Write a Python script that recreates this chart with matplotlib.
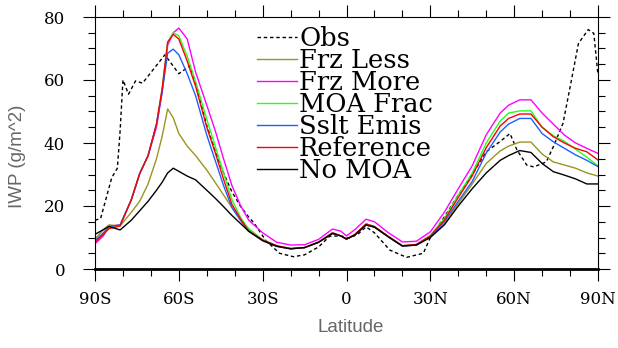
import matplotlib
matplotlib.use('Agg')
from matplotlib import pyplot as plt
from matplotlib.ticker import MultipleLocator

# latitudes of the model output
lat = [-90, -87, -85, -81, -77, -74, -71, -68, -66, -64, -62, -60, -57, -54,
       -50, -47, -44, -41, -38, -35, -30, -25, -20, -15, -10, -5, -2, 0,
       3, 7, 10, 15, 20, 25, 30, 35, 40, 45, 50, 55, 58, 62, 66, 70, 74, 78, 82, 86, 90]

frz_less = [9.5, 12.5, 14, 13.7, 18, 21.5, 27, 35, 42, 50.8, 48, 43, 39, 36,
            31.4, 27.5, 23.5, 19.5, 16, 12.8, 9.3, 7.3, 6.5, 6.8, 8.5, 11.3, 10.5, 9.5,
            10.8, 14, 13.3, 10.2, 7.3, 7.6, 10.2, 14.3, 20.8, 27, 33.5, 37.5, 39,
            40.3, 40.3, 36.5, 34, 33, 32, 30.5, 29.5]
frz_more = [8, 10.5, 13.5, 14, 22, 30.3, 36, 45, 56, 71, 75, 76.5, 73, 62.5,
            52, 44, 35, 26.5, 20.3, 15.5, 11.5, 8.5, 7.6, 7.7, 9.4, 12.7, 12, 10.5,
            12.5, 15.8, 15, 11.5, 8.6, 8.8, 11.8, 18, 25.5, 32.8, 42.6, 49.5, 52,
            53.7, 53.7, 49.5, 46, 42.5, 40, 38.3, 36.7]
moa_frac = [8.5, 11, 13, 13.7, 22, 30.3, 36, 46, 57, 72, 75, 74, 67.5, 59.5,
            47.5, 39, 30.5, 22, 16.5, 12.5, 9.3, 7.4, 6.5, 6.8, 8.5, 11.5, 10.5, 9.5,
            11, 14.3, 13.5, 10.3, 7.4, 7.8, 10.7, 16, 23.5, 30.5, 40, 47, 49.5,
            50.2, 50.2, 45, 42.3, 40.5, 38, 35.5, 32.7]
sslt_emis = [9, 11.5, 13.5, 14, 22, 30.3, 36, 46, 56, 68.5, 69.8, 68, 62, 55,
             42.5, 34.5, 26.5, 19.5, 15.5, 12, 9, 7.2, 6.4, 6.8, 8.5, 11.3, 10.5, 9.5,
             10.8, 14, 13.3, 10.2, 7.3, 7.6, 10.2, 15, 21.5, 27.8, 36.8, 43.5, 46,
             47.8, 47.8, 43, 40.4, 38.3, 36.2, 34.5, 32.5]
reference = [8.5, 11, 12.8, 13.7, 22, 30.3, 36, 46, 57, 72, 74.5, 73, 66, 58,
             45, 37, 28.5, 20.5, 16, 12, 9.2, 7.4, 6.5, 6.8, 8.5, 11.5, 10.5, 9.5,
             11, 14.3, 13.5, 10.3, 7.4, 7.8, 10.5, 15.5, 22.7, 29.6, 38.5, 45.4, 47.8,
             49.2, 49.2, 45, 42, 40, 38.3, 37.2, 34.6]
no_moa = [11, 12.5, 13.5, 12.4, 15.5, 18.5, 21.5, 25, 27.5, 30.5, 32, 31, 29.5, 28.3,
          25, 22.5, 19.8, 17, 14.5, 12, 9, 7.2, 6.4, 6.8, 8.5, 11.3, 10.5, 9.5,
          10.8, 14, 13.3, 10.2, 7.3, 7.6, 10, 14, 20, 25.5, 30.5, 34.5, 36,
          37.6, 37, 33.5, 30.9, 29.8, 28.6, 27, 27]

# observations
obs_lat = [-90, -88, -84, -82, -81, -80, -78, -75.5, -73, -65, -60, -56, -54, -50,
           -47, -44, -41, -38, -35, -33, -29, -24, -19, -15, -10, -6, -2, 1, 4, 7,
           10, 15.5, 21.5, 27.5, 30, 35, 40, 45, 50, 55, 58.5, 61, 64.5, 67, 71.5,
           74, 77.5, 80.5, 83, 86.5, 88.5, 90]
obs_iwp = [15.5, 16, 29, 32, 44, 60, 55.5, 59.7, 59, 68, 62, 64.5, 59, 45.5,
           37.5, 30.5, 24.5, 20, 16.5, 14.5, 9.2, 5, 3.9, 4.5, 7, 10.4, 10.5, 9.8, 11, 13.4,
           11.5, 6, 3.7, 5, 10, 16.5, 23.5, 30, 37.2, 40.5, 43, 37.8, 33, 32.4, 34,
           38.8, 46.3, 60, 71.6, 76, 74.8, 61.6]

names = ['Obs', 'Frz Less', 'Frz More', 'MOA Frac', 'Sslt Emis', 'Reference', 'No MOA']
colors = ['black', '#9c9420', '#ff00ff', '#22ff22', '#1f5fff', '#ff0000', 'black']
xticks = [-90, -60, -30, 0, 30, 60, 90]
xticklabels = ['90S', '60S', '30S', '0', '30N', '60N', '90N']

fig = plt.figure(figsize=(6.18, 3.48), dpi=100)
ax = fig.add_axes([95/618, 79/348, 503/618, 252/348])

ax.plot(obs_lat, obs_iwp, color='black', lw=1.0, ls=(0, (2.5, 2)))
models = [frz_less, frz_more, moa_frac, sslt_emis, reference, no_moa]
for vals, c in zip(models, colors[1:]):
    ax.plot(lat, vals, color=c, lw=1.0)

ax.set_xlim(-90, 90)
ax.set_ylim(0, 80)
ax.set_xticks(xticks)
ax.set_xticklabels(xticklabels)
ax.set_yticks([0, 20, 40, 60, 80])
ax.xaxis.set_minor_locator(MultipleLocator(10))
ax.yaxis.set_minor_locator(MultipleLocator(5))
ax.tick_params(which='both', direction='out', top=True, right=True, width=0.8)
ax.tick_params(which='major', length=8.6)
ax.tick_params(which='minor', length=5)
ax.tick_params(axis='x', pad=7)
ax.tick_params(axis='y', pad=13)
for lab in ax.get_xticklabels() + ax.get_yticklabels():
    lab.set_fontfamily('DejaVu Serif')
    lab.set_fontsize(12)
for s in ax.spines.values():
    s.set_linewidth(0.8)
ax.spines['bottom'].set_linewidth(2)

# legend drawn by hand, NCL style
for i, (n, c) in enumerate(zip(names, colors)):
    y = 0.9206 - i * 0.0873
    ls = (0, (2.5, 2)) if i == 0 else '-'
    ax.plot([0.322, 0.4016], [y, y], transform=ax.transAxes, color=c, lw=1.0, ls=ls)
    ax.text(0.4056, y - 0.034, n, transform=ax.transAxes, family='DejaVu Serif',
            fontsize=18.5, va='baseline', ha='left')

fig.text(351/618, 1 - 328/348, 'Latitude', family='Liberation Sans', fontsize=13.5,
         color='#666666', ha='center', va='center')
fig.text(18/618, 1 - 156/348, 'IWP (g/m^2)', family='Liberation Sans', fontsize=13.5,
         color='#666666', ha='center', va='center', rotation=90)

fig.savefig('out.png', dpi=100)
